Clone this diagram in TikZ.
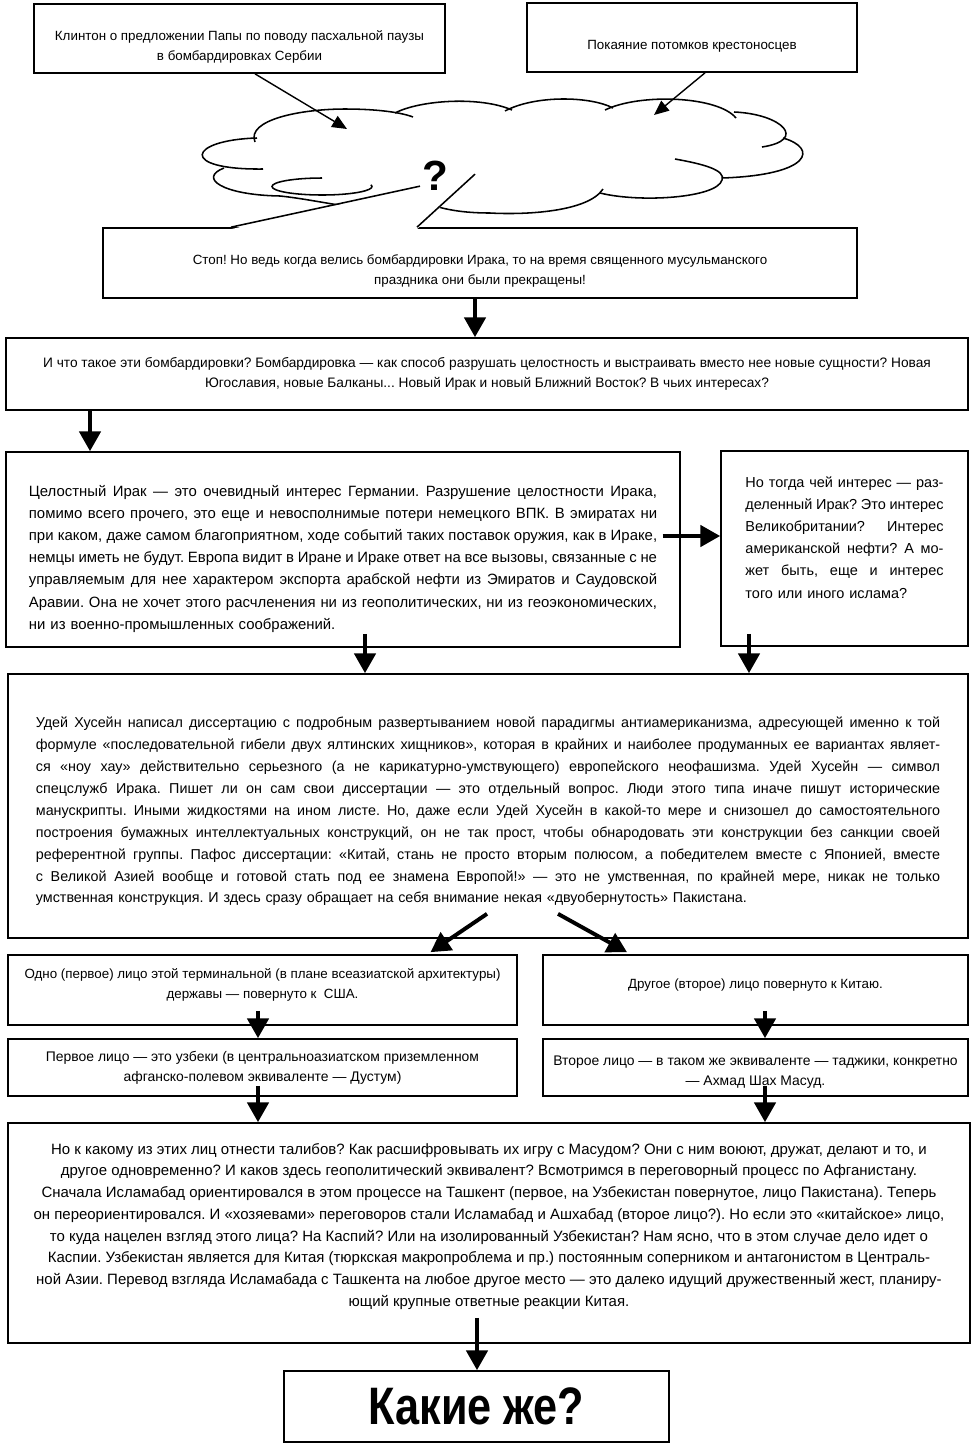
\documentclass[tikz,border=0pt]{standalone}
\usepackage{fontspec}
\setmainfont{Liberation Sans}
\newfontfamily\headfont[FakeStretch=0.82]{Liberation Sans}
\usetikzlibrary{arrows.meta,calc}
% one justified line of a box, and pads that move a box's text down or up
\newcommand{\jl}[1]{\makebox[\jw][s]{\spaceskip=.25em plus 1.5em minus .05em\relax #1}}
\newcommand{\padtop}[1]{\rule{0pt}{\dimexpr\ht\strutbox+#1\relax}}
\newcommand{\padbot}[1]{\rule[-\dimexpr\dp\strutbox+#1\relax]{0pt}{0pt}}

\begin{document}
\frenchspacing
\begin{tikzpicture}[
    x=0.025cm, y=-0.025cm,
    wh/.style 2 args={minimum width=#1*0.025cm, minimum height=#2*0.025cm},
    block/.style={draw, line width=1.2pt, inner sep=0pt, align=center, font=\fontsize{9.5}{14.2}\selectfont},
    textblock/.style={block, align=left, font=\fontsize{10.2}{15.6}\selectfont},
    jw/.style={text width=#1, execute at begin node={\def\jw{#1}}},
    puff/.style={line width=1.1pt},
    arr/.style={-{Triangle[length=14pt, width=15pt]}, line width=2.8pt},
    thinarr/.style={-{Triangle[length=10.5pt, width=9pt]}, line width=1pt}
]
    \useasboundingbox (0,0) rectangle (978,1443);

    % top notes
    \node[block, wh={411}{69}] (clinton) at (239.5,38.5)
        {\padtop{0.33cm}Клинтон о предложении Папы по поводу пасхальной паузы\\в бомбардировках Сербии};
    \node[block, wh={330}{69}] (penance) at (692,37.5) {\padtop{0.3cm}Покаяние потомков крестоносцев};

    % the cloud, drawn puff by puff
    \draw[puff] (255,142) .. controls (246,120) and (300,109) .. (345,109) .. controls (375,109) and (400,112) .. (413,117);
    \draw[puff] (395,113) .. controls (420,100) and (480,96) .. (512,110);
    \draw[puff] (505,111) .. controls (535,95) and (590,96) .. (613,108);
    \draw[puff] (605,110) .. controls (640,93) and (718,96) .. (736,118);
    \draw[puff] (734,112) .. controls (782,114) and (808,140) .. (762,147);
    \draw[puff] (783,138) .. controls (818,148) and (812,175) .. (722,178);
    \draw[puff] (675,159) .. controls (703,164) and (726,170) .. (722,180) .. controls (717,198) and (640,203) .. (600,193);
    \draw[puff] (603,189) .. controls (588,212) and (525,215) .. (490,213) .. controls (465,213) and (440,210) .. (420,200);
    \draw[puff] (257,138) .. controls (188,140) and (178,170) .. (263,169);
    \draw[puff] (224,168) .. controls (198,178) and (222,195) .. (280,196) .. controls (300,198) and (325,203) .. (345,206);
    \draw[puff] (322,178) arc[start angle=90, end angle=372, x radius=50*0.025cm, y radius=8.5*0.025cm];
    \coordinate (cloudL) at (347,129);
    \coordinate (cloudR) at (654,115);
    \draw[thinarr] ($(clinton.south)+(15.5,0)$) -- (cloudL);
    \draw[thinarr] ($(penance.south)+(13,0)$) -- (cloudR);

    % the stop note, pointing into the cloud
    \node[block, wh={754}{70}] (stop) at (480,263)
        {\padtop{0.3cm}Стоп! Но ведь когда велись бомбардировки Ирака, то на время священного мусульманского\\праздника они были прекращены!};
    \fill[white] ($(stop.north)+(-249,2)$) -- ($(stop.north)+(-60,-41)$)
        -- ($(stop.north)+(-5,-53)$) -- ($(stop.north)+(-63,2)$) -- cycle;
    \draw[puff] ($(stop.north)+(-249,0)$) -- ($(stop.north)+(-60,-41)$);
    \draw[puff] ($(stop.north)+(-63,0)$) -- ($(stop.north)+(-5,-53)$);
    \node[font=\fontsize{30}{30}\selectfont\bfseries] (qmark) at (435,176) {?};

    % main chain
    \node[block, wh={962}{72}, font=\fontsize{9.75}{14.2}\selectfont] (whatis) at (487,374)
        {И что такое эти бомбардировки? Бомбардировка — как способ разрушать целостность и выстраивать вместо нее новые сущности? Новая\\Югославия, новые Балканы... Новый Ирак и новый Ближний Восток? В чьих интересах?};
    \node[textblock, wh={674}{195}, jw=15.7cm, font=\fontsize{10.6}{15.8}\selectfont] (germany) at (343,549.5)
        {\noindent\padtop{0.35cm}\jl{Целостный Ирак — это очевидный интерес Германии. Разрушение целостности Ирака,}\\
         \jl{помимо всего прочего, это еще и невосполнимые потери немецкого ВПК. В эмиратах ни}\\
         \jl{при каком, даже самом благоприятном, ходе событий таких поставок оружия, как в Ираке,}\\
         \jl{немцы иметь не будут. Европа видит в Иране и Ираке ответ на все вызовы, связанные с не}\\
         \jl{управляемым для нее характером экспорта арабской нефти из Эмиратов и Саудовской}\\
         \jl{Аравии. Она не хочет этого расчленения ни из геополитических, ни из геоэкономических,}\\
         ни из военно-промышленных соображений.};
    \node[textblock, wh={247}{195}, jw=4.95cm, font=\fontsize{10.3}{15.8}\selectfont] (britain) at (844.5,548.5)
        {\noindent\jl{Но тогда чей интерес — раз-}\\
         \jl{деленный Ирак? Это интерес}\\
         \jl{Великобритании? Интерес}\\
         \jl{американской нефти? А мо-}\\
         \jl{жет быть, еще и интерес}\\
         того или иного ислама?\padbot{0.4cm}};
    \node[textblock, wh={960}{264}, jw=22.6cm] (uday) at (488,806)
        {\noindent\padtop{0.15cm}\jl{Удей Хусейн написал диссертацию с подробным развертыванием новой парадигмы антиамериканизма, адресующей именно к той}\\
         \jl{формуле «последовательной гибели двух ялтинских хищников», которая в крайних и наиболее продуманных ее вариантах являет-}\\
         \jl{ся «ноу хау» действительно серьезного (а не карикатурно-умствующего) европейского неофашизма. Удей Хусейн — символ}\\
         \jl{спецслужб Ирака. Пишет ли он сам свои диссертации — это отдельный вопрос. Люди этого типа иначе пишут исторические}\\
         \jl{манускрипты. Иными жидкостями на ином листе. Но, даже если Удей Хусейн в какой-то мере и снизошел до самостоятельного}\\
         \jl{построения бумажных интеллектуальных конструкций, он не так прост, чтобы обнародовать эти конструкции без санкции своей}\\
         \jl{референтной группы. Пафос диссертации: «Китай, стань не просто вторым полюсом, а победителем вместе с Японией, вместе}\\
         \jl{с Великой Азией вообще и готовой стать под ее знамена Европой!» — это не умственная, по крайней мере, никак не только}\\
         умственная конструкция. И здесь сразу обращает на себя внимание некая «двуобернутость» Пакистана.};

    % the two faces
    \node[block, wh={509}{70}] (face1) at (262.5,990)
        {Одно (первое) лицо этой терминальной (в плане всеазиатской архитектуры)\\державы — повернуто к~~США.\padbot{0.15cm}};
    \node[block, wh={425}{70}] (face2) at (755.5,990) {Другое (второе) лицо повернуто к Китаю.\padbot{0.15cm}};
    \node[block, wh={509}{57}, font=\fontsize{9.9}{14.2}\selectfont] (uzbek) at (262.5,1067.5)
        {Первое лицо — это узбеки (в центральноазиатском приземленном\\афганско-полевом эквиваленте — Дустум)};
    \node[block, wh={425}{57}, font=\fontsize{9.9}{14.2}\selectfont] (tajik) at (755.5,1067.5)
        {\padtop{0.1cm}Второе лицо — в таком же эквиваленте — таджики, конкретно\\— Ахмад Шах Масуд.};

    \node[block, wh={962}{220}, font=\fontsize{10.65}{15.45}\selectfont] (taliban) at (489,1233)
        {Но к какому из этих лиц отнести талибов? Как расшифровывать их игру с Масудом? Они с ним воюют, дружат, делают и то, и\\
         другое одновременно? И каков здесь геополитический эквивалент? Всмотримся в переговорный процесс по Афганистану.\\
         Сначала Исламабад ориентировался в этом процессе на Ташкент (первое, на Узбекистан повернутое, лицо Пакистана). Теперь\\
         он переориентировался. И «хозяевами» переговоров стали Исламабад и Ашхабад (второе лицо?). Но если это «китайское» лицо,\\
         то куда нацелен взгляд этого лица? На Каспий? Или на изолированный Узбекистан? Нам ясно, что в этом случае дело идет о\\
         Каспии. Узбекистан является для Китая (тюркская макропроблема и пр.) постоянным соперником и антагонистом в Централь-\\
         ной Азии. Перевод взгляда Исламабада с Ташкента на любое другое место — это далеко идущий дружественный жест, планиру-\\
         ющий крупные ответные реакции Китая.\padbot{0.25cm}};
    \node[block, wh={385}{71}, font=\headfont\fontsize{37.5}{37.5}\selectfont\bfseries] (which) at (476.5,1406.5) {Какие же?};

    % connections
    \draw[arr] ($(stop.south)+(-5,0)$) coordinate (s1) -- (s1 |- whatis.north);
    \draw[arr] ($(whatis.south)+(-397,0)$) coordinate (w1) -- (w1 |- germany.north);
    \draw[arr, shorten <=-13pt] ($(germany.east)+(0,-13.5)$) coordinate (g0) -- (g0 -| britain.west);
    \draw[arr] ($(germany.south)+(22,-14)$) coordinate (g1) -- (g1 |- uday.north);
    \draw[arr] ($(britain.south)+(-95.5,-13)$) coordinate (b1) -- (b1 |- uday.north);
    \draw[arr] ($(uday.south)+(-1,-25)$) -- ($(face1.north)+(168,-2)$);
    \draw[arr] ($(uday.south)+(70,-25)$) -- ($(face2.north)+(-128.5,-2)$);
    \draw[arr] ($(face1.south)+(-4.5,-15)$) coordinate (f1) -- (f1 |- uzbek.north);
    \draw[arr] ($(face2.south)+(9.5,-15)$) coordinate (f2) -- (f2 |- tajik.north);
    \draw[arr] ($(uzbek.south)+(-4.5,-11)$) coordinate (u1) -- (u1 |- taliban.north);
    \draw[arr] ($(tajik.south)+(9.5,-11)$) coordinate (t1) -- (t1 |- taliban.north);
    \draw[arr] ($(taliban.south)+(-12,-26)$) coordinate (l1) -- (l1 |- which.north);
\end{tikzpicture}
\end{document}
